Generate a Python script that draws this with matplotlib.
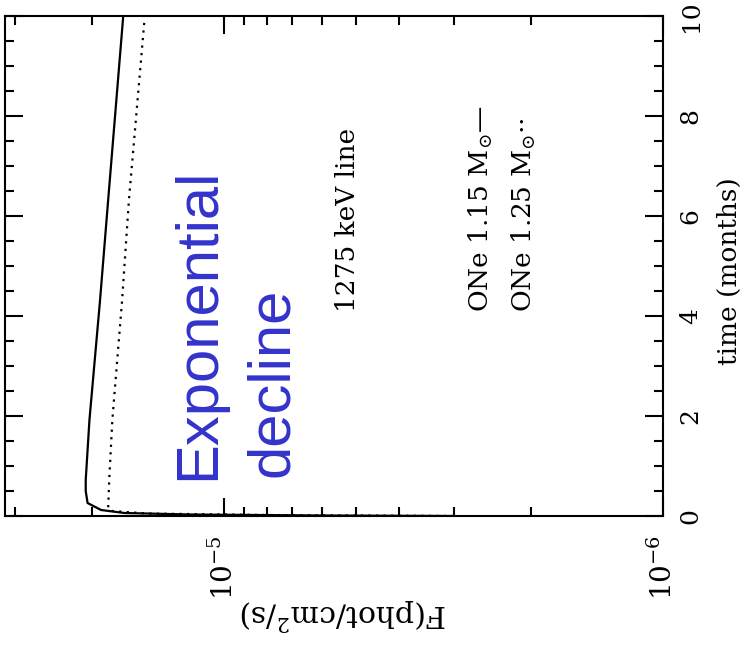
import matplotlib
matplotlib.use("Agg")
import matplotlib.pyplot as plt
from matplotlib.ticker import MultipleLocator, LogLocator, NullFormatter, FixedLocator

plt.rcParams['font.family'] = ['DejaVu Serif']
plt.rcParams['mathtext.fontset'] = 'dejavuserif'

# ---- data ----
# time in months, flux in phot/cm^2/s (1275 keV line)
t_115 = [0.0, 0.01, 0.03, 0.06, 0.12, 0.26, 0.5, 0.72, 1.92, 4.32, 6.32, 10.0]
f_115 = [3.0e-6, 6.0e-6, 1.2e-5, 1.69e-5, 1.91e-5, 2.05e-5, 2.07e-5, 2.07e-5,
         2.03e-5, 1.92e-5, 1.84e-5, 1.70e-5]

t_125 = [0.0, 0.02, 0.05, 0.1, 0.15, 0.72, 1.92, 4.32, 6.32, 9.94]
f_125 = [3.0e-6, 8.0e-6, 1.5e-5, 1.8e-5, 1.84e-5, 1.83e-5, 1.80e-5,
         1.71e-5, 1.65e-5, 1.52e-5]

flux_ticks = [1e-6, 1e-5]
flux_ticklabels = [r'$10^{-6}$', r'$10^{-5}$']
time_ticks = [0, 2, 4, 6, 8, 10]

W, H = 742, 646
fig = plt.figure(figsize=(W / 100, H / 100), dpi=100)
ax = fig.add_axes([5 / W, 1 - 516 / H, 658 / W, 500 / H])

ax.plot(f_115, t_115, color='black', lw=1.6)
ax.plot(f_125, t_125, color='black', lw=1.6, linestyle=(0, (1, 2.4)))

ax.set_xscale('log')
ax.set_xlim(10 ** -4.5, 1e-6)
ax.set_ylim(0, 10)

ax.xaxis.set_major_locator(FixedLocator(flux_ticks))
ax.set_xticklabels(flux_ticklabels)
ax.xaxis.set_minor_locator(LogLocator(base=10, subs=range(2, 10)))
ax.xaxis.set_minor_formatter(NullFormatter())
ax.yaxis.set_major_locator(FixedLocator(time_ticks))
ax.yaxis.set_minor_locator(MultipleLocator(0.5))

for s in ax.spines.values():
    s.set_linewidth(1.5)

ax.tick_params(axis='both', which='both', direction='in', top=True, bottom=True,
               left=True, right=True, width=1.5)
ax.tick_params(axis='both', which='major', length=13)
ax.tick_params(axis='both', which='minor', length=6.5)
ax.tick_params(axis='y', labelleft=False, labelright=True, labelsize=18, pad=12)
ax.tick_params(axis='x', labelsize=20, pad=14)
for lab in ax.get_xticklabels():
    lab.set_rotation(90)
    lab.set_va('top')
    lab.set_ha('center')
for lab in ax.get_yticklabels():
    lab.set_rotation(90)
    lab.set_va('center')
    lab.set_ha('left')

# axis labels (rotated figure)
fig.text(344 / W, 1 - 614 / H, r'F(phot/cm$^2$/s)', rotation=180,
         ha='center', va='center', fontsize=21.5)
fig.text(737 / W, 1 - 365 / H, 'time (months)', rotation=90,
         rotation_mode='anchor', ha='left', va='baseline', fontsize=19)

# annotations
ax.text(0.521, 0.408, '1275 keV line', transform=ax.transAxes, rotation=90,
        rotation_mode='anchor', ha='left', va='center', fontsize=19)
ax.text(0.723, 0.408, r'ONe 1.15 M$_{\odot}$—', transform=ax.transAxes,
        rotation=90, rotation_mode='anchor', ha='left', va='center', fontsize=19)
ax.text(0.789, 0.408, r'ONe 1.25 M$_{\odot}$··', transform=ax.transAxes,
        rotation=90, rotation_mode='anchor', ha='left', va='center', fontsize=19)

blue = '#3333cc'
fig.text(214 / W, 1 - 480 / H, 'Exponential', rotation=90, rotation_mode='anchor',
         ha='left', va='baseline', fontsize=43, color=blue, family='Liberation Sans')
fig.text(288 / W, 1 - 477 / H, 'decline', rotation=90, rotation_mode='anchor',
         ha='left', va='baseline', fontsize=43, color=blue, family='Liberation Sans')

fig.savefig('out.png', dpi=100)
